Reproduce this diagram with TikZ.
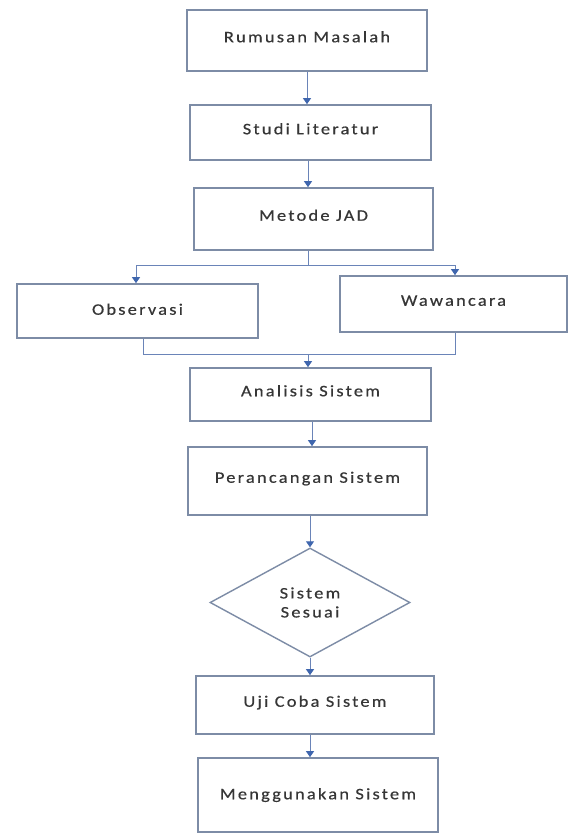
\documentclass[tikz,border=0pt]{standalone}
\usepackage{fontspec}
\setmainfont{Carlito}[LetterSpace=14,FakeStretch=1.15,FakeBold=0.5]
\usetikzlibrary{arrows.meta,shapes.geometric}
\definecolor{boxline}{HTML}{7D8CA6}
\definecolor{conn}{HTML}{6A84B8}
\definecolor{tip}{HTML}{3F66AE}
\definecolor{txt}{HTML}{363636}
\begin{document}
\begin{tikzpicture}[x=1pt,y=-1pt,
  box/.style={draw=boxline,line width=1.7pt,rectangle,inner sep=0pt,
    font=\fontsize{16}{19}\selectfont,text=txt,align=center,
    text height=11.5pt,text depth=8pt},
  dec/.style={draw=boxline,line width=1.4pt,diamond,inner sep=0pt,
    font=\fontsize{16}{19}\selectfont,text=txt,align=center},
  conline/.style={draw=conn,line width=0.9pt},
  arr/.style={conline,-{Triangle[width=8pt,length=6pt,fill=tip,color=tip]}}]
\useasboundingbox (0,0) rectangle (569,834);
\fill[white] (0,0) rectangle (569,834);
\node[box,minimum width=240pt,minimum height=61pt] (rm) at (307,40.5) {Rumusan Masalah};
\node[box,minimum width=241pt,minimum height=55pt] (sl) at (310.5,132.5) {Studi Literatur};
\node[box,minimum width=239pt,minimum height=62pt] (jad) at (313.5,219) {Metode JAD};
\node[box,minimum width=241pt,minimum height=54pt,text depth=4pt] (ob) at (137.5,311) {Observasi};
\node[box,minimum width=227pt,minimum height=56pt] (ww) at (453.5,304) {Wawancara};
\node[box,minimum width=241pt,minimum height=53pt] (an) at (310.5,394.5) {Analisis Sistem};
\node[box,minimum width=239pt,minimum height=68pt] (pr) at (307.5,481) {Perancangan Sistem};
\node[dec,minimum width=200pt,minimum height=109pt,aspect=1.83] (ss) at (310,602.5) {Sistem\\Sesuai};
\node[box,minimum width=238pt,minimum height=58pt] (uj) at (315,705) {Uji Coba Sistem};
\node[box,minimum width=240pt,minimum height=74pt,text depth=3pt] (mg) at (318,795) {Menggunakan Sistem};
% connectors
\coordinate (c1) at (307,0);
\draw[arr] (c1 |- rm.south) -- (c1 |- sl.north);
\coordinate (c2) at (308,0);
\draw[arr] (c2 |- sl.south) -- (c2 |- jad.north);
\coordinate (split) at (308,265);
\coordinate (spl) at (136,265);
\coordinate (spr) at (455,265);
\draw[conline] (split |- jad.south) -- (split);
\draw[conline] (spl) -- (spr);
\draw[arr] (spl) -- (spl |- ob.north);
\draw[arr] (spr) -- (spr |- ww.north);
\coordinate (ml) at (143,354);
\coordinate (mr) at (455,354);
\coordinate (mm) at (308,354);
\draw[conline] (ml |- ob.south) -- (ml) -- (mr) -- (mr |- ww.south);
\draw[arr] (mm) -- (mm |- an.north);
\coordinate (c3) at (312,0);
\draw[arr] (c3 |- an.south) -- (c3 |- pr.north);
\coordinate (c4) at (310,0);
\draw[arr] (c4 |- pr.south) -- (ss.north);
\draw[arr] (ss.south) -- (c4 |- uj.north);
\draw[arr] (c4 |- uj.south) -- (c4 |- mg.north);
\end{tikzpicture}
\end{document}
